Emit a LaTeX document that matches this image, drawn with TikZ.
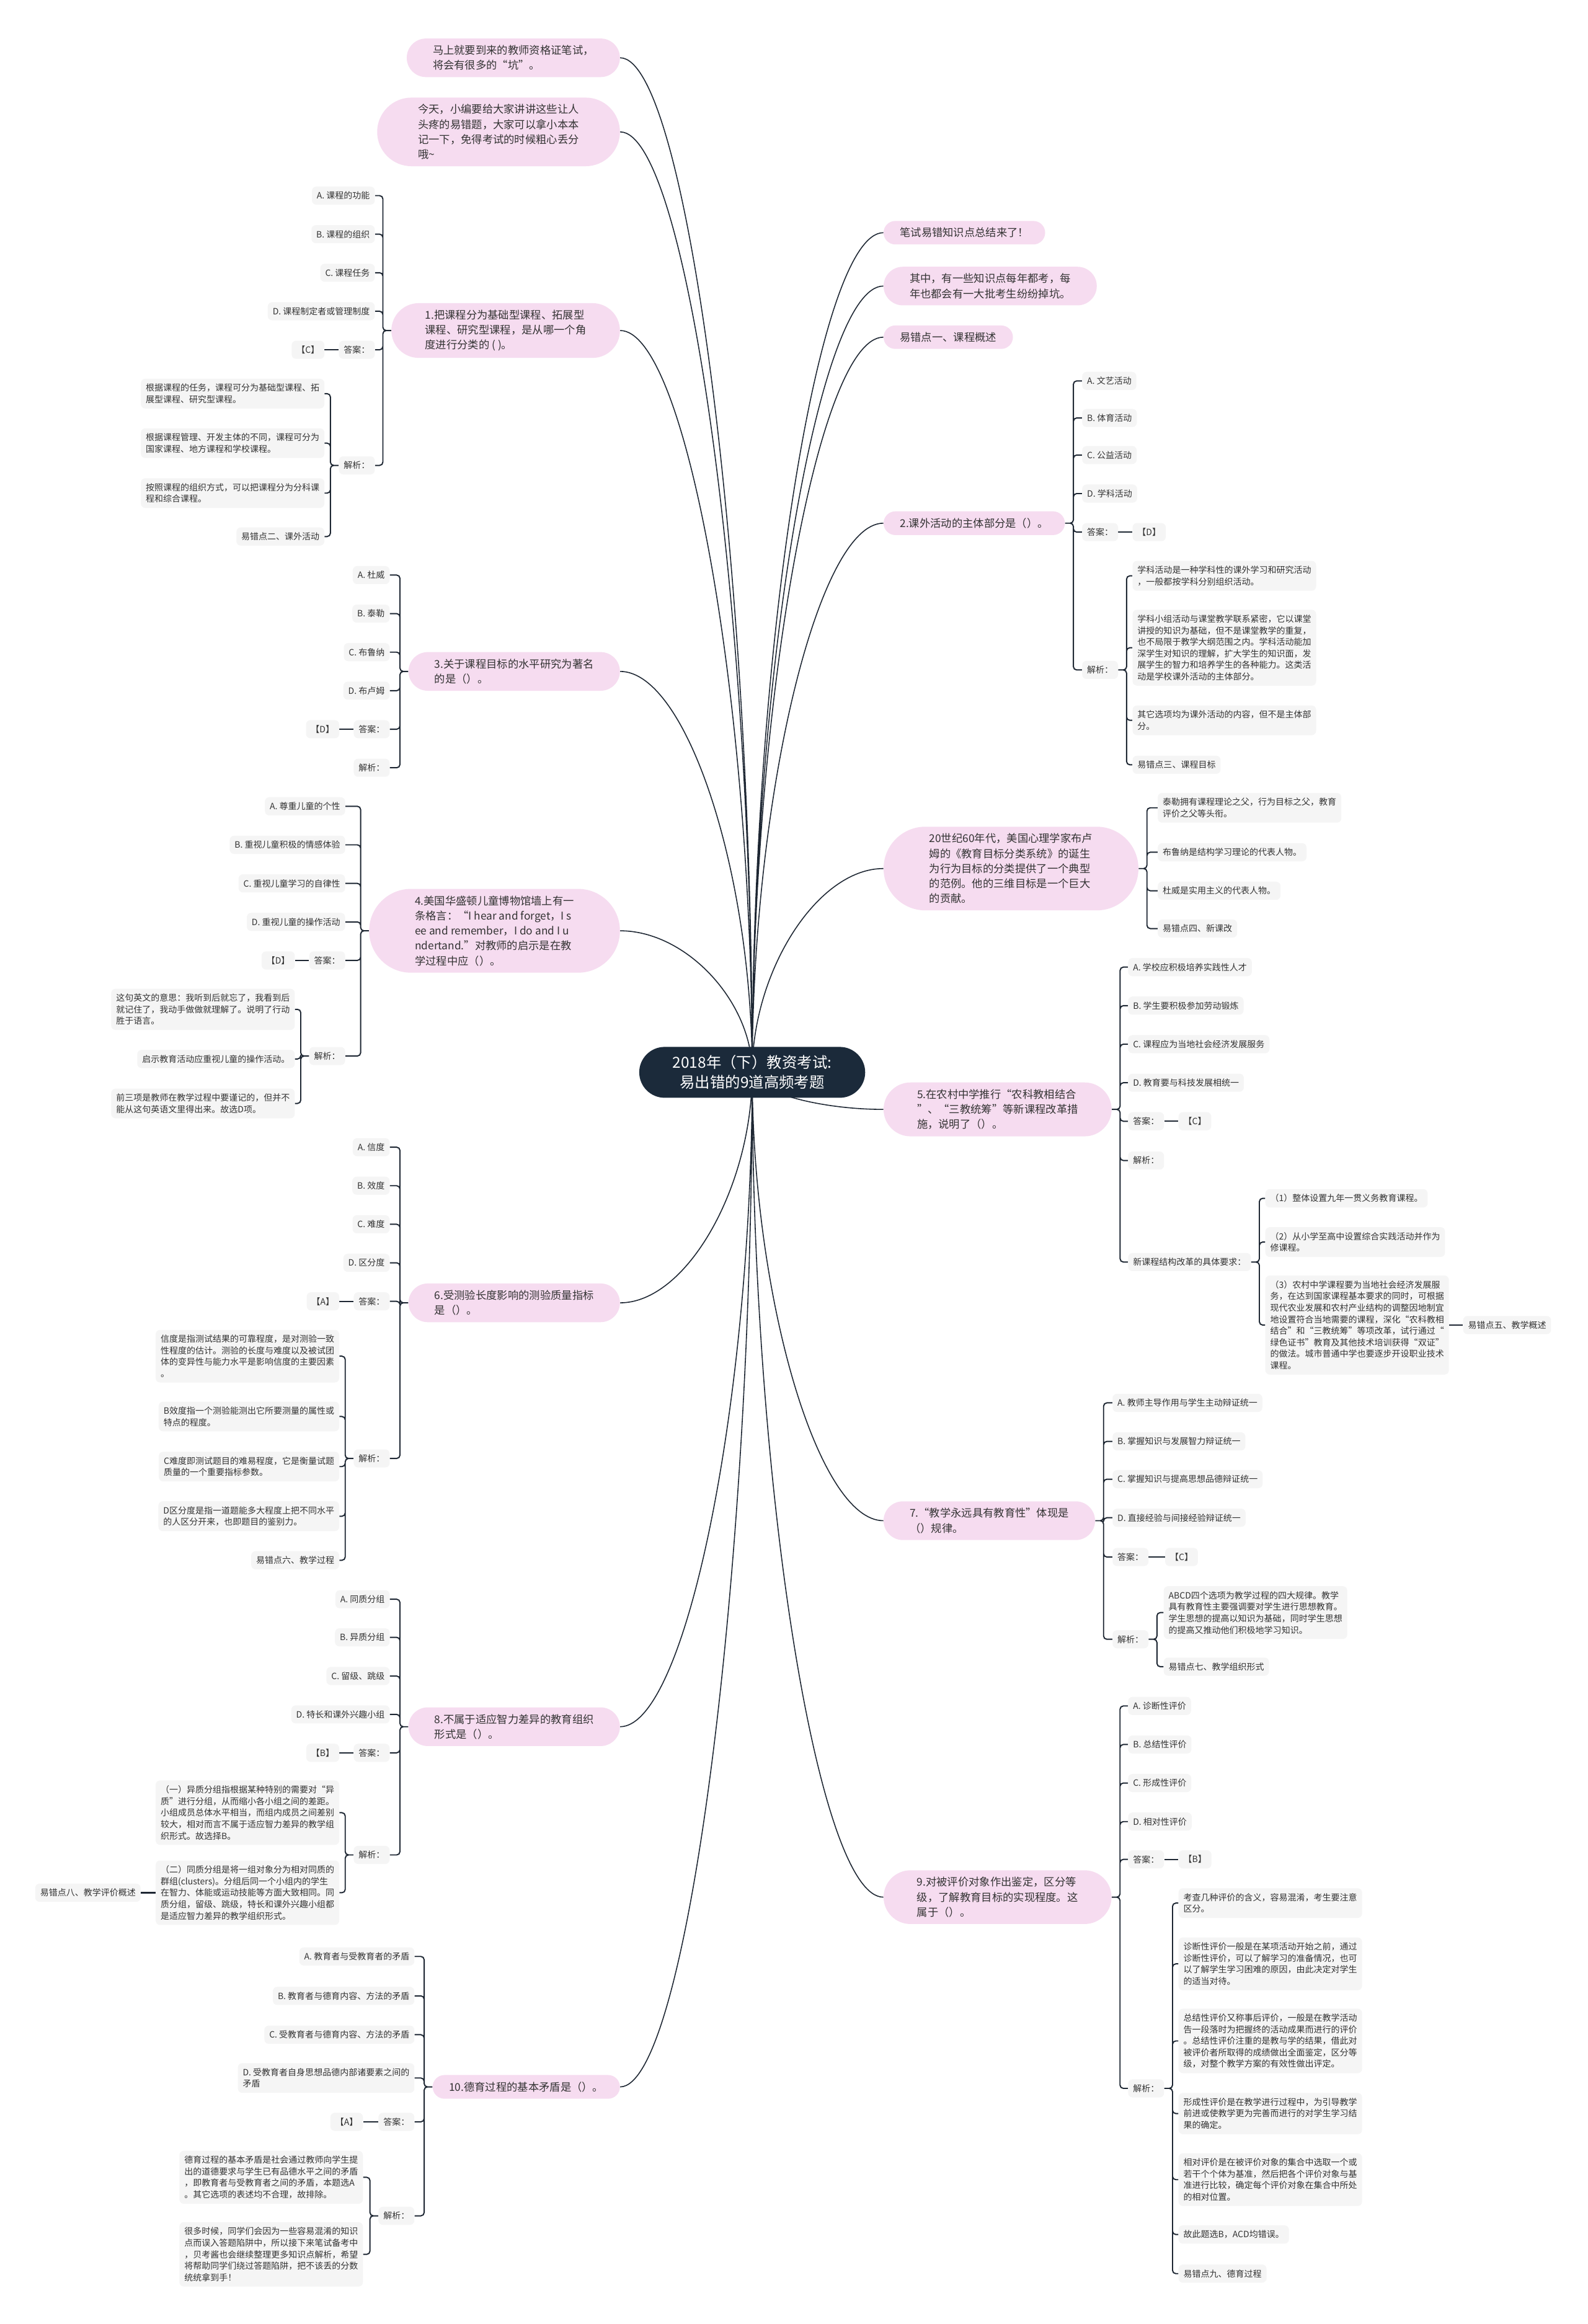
\documentclass[tikz,border=0pt]{standalone}
\usepackage{fontspec}
\setmainfont{Noto Sans CJK SC}
\usepackage{tikz}
\usetikzlibrary{shapes.misc,calc,backgrounds}
\definecolor{MMNavy}{HTML}{1B2A3A}
\definecolor{MMPink}{HTML}{F6DCF0}
\definecolor{MMLeaf}{HTML}{F5F5F5}
\definecolor{MMLine}{HTML}{1E2733}
\definecolor{MMText}{HTML}{333333}
\tikzset{
  hub/.style={rounded rectangle,fill=MMNavy,text=white,align=center,
    font=\fontsize{13.9pt}{18.2pt}\selectfont,inner xsep=24.7pt,inner ysep=7.7pt},
  topic/.style={rounded rectangle,fill=MMPink,text=MMText,align=left,
    font=\fontsize{9.85pt}{13.8pt}\selectfont,inner xsep=#1,inner ysep=6.2pt},
  topic/.default=14pt,
  leaf/.style={rectangle,rounded corners=4pt,fill=MMLeaf,text=MMText,align=left,
    font=\fontsize{7.97pt}{10.6pt}\selectfont,inner xsep=4.5pt,inner ysep=4.6pt},
  trunk/.style={draw=MMLine,line width=.9pt,
    to path={.. controls ($(\tikztostart)!0.5!(\tikztostart |- \tikztotarget)$)
      and ($(\tikztotarget)!0.5!(\tikztotarget -| \tikztostart)$) .. (\tikztotarget)}},
  twigl/.style={draw=MMLine,line width=1.1pt,rounded corners=3pt,
    to path={-- ++(-5.6,0) |- (\tikztotarget)}},
  twigr/.style={draw=MMLine,line width=1.1pt,rounded corners=3pt,
    to path={-- ++(5.6,0) |- (\tikztotarget)}},
  stem/.style={draw=MMLine,line width=1.3pt}
}
\begin{document}
\begin{tikzpicture}[x=0.0478cm,y=-0.0478cm]
\path[use as bounding box] (0,0) rectangle (1071,1568);
\node[hub] (root) at (507.5,723.5) {2018年（下）教资考试:\\易出错的9道高频考题};
% left topics
\node[topic=19.7pt,anchor=east] (intro1) at (418.4,39) {马上就要到来的教师资格证笔试，\\将会有很多的“坑”。};
\node[topic=24.8pt,anchor=east] (intro2) at (418.4,89) {今天，小编要给大家讲讲这些让人\\头疼的易错题，大家可以拿小本本\\记一下，免得考试的时候粗心丢分\\哦\textasciitilde};
\node[topic=22.4pt,anchor=east] (q1) at (418.4,223) {1.把课程分为基础型课程、拓展型\\课程、研究型课程，是从哪一个角\\度进行分类的 ( )。};
\node[topic=19.7pt,anchor=east] (q3) at (418.4,453) {3.关于课程目标的水平研究为著名\\的是（）。};
\node[topic=24.5pt,anchor=east] (q4) at (418.4,628) {4.美国华盛顿儿童博物馆墙上有一\\条格言：“I hear and forget，I s\\ee and remember，I do and I u\\ndertand.”对教师的启示是在教\\学过程中应（）。};
\node[topic=19.7pt,anchor=east] (q6) at (418.4,879) {6.受测验长度影响的测验质量指标\\是（）。};
\node[topic=19.7pt,anchor=east] (q8) at (418.4,1165) {8.不属于适应智力差异的教育组织\\形式是（）。};
\node[topic,anchor=east] (q10) at (418.4,1408) {10.德育过程的基本矛盾是（）。};
% right topics
\node[topic,anchor=west] (sum) at (596,157) {笔试易错知识点总结来了！};
\node[topic=19.7pt,anchor=west] (note) at (596,193) {其中，有一些知识点每年都考，每\\年也都会有一大批考生纷纷掉坑。};
\node[topic,anchor=west] (tip1) at (596,227.5) {易错点一、课程概述};
\node[topic,anchor=west] (q2) at (596,353) {2.课外活动的主体部分是（）。};
\node[topic=24.5pt,anchor=west] (bloom) at (596,586) {20世纪60年代，美国心理学家布卢\\姆的《教育目标分类系统》的诞生\\为行为目标的分类提供了一个典型\\的范例。他的三维目标是一个巨大\\的贡献。};
\node[topic=22.4pt,anchor=west] (q5) at (596,748.5) {5.在农村中学推行“农科教相结合\\”、“三教统筹”等新课程改革措\\施，说明了（）。};
\node[topic=19.7pt,anchor=west] (q7) at (596,1026) {7.“教学永远具有教育性”体现是\\（）规律。};
\node[topic=22.4pt,anchor=west] (q9) at (596,1280) {9.对被评价对象作出鉴定，区分等\\级，了解教育目标的实现程度。这\\属于（）。};
% question 1
\node[leaf,anchor=east] (q1a) at (253,132) {A. 课程的功能};
\node[leaf,anchor=east] (q1b) at (253,158) {B. 课程的组织};
\node[leaf,anchor=east] (q1c) at (253,184) {C. 课程任务};
\node[leaf,anchor=east] (q1d) at (253,210) {D. 课程制定者或管理制度};
\node[leaf,anchor=east] (q1ans) at (253,236) {答案：};
\node[leaf,anchor=east] (q1key) at (219,236) {【C】};
\node[leaf,anchor=east] (q1why) at (253,314) {解析：};
\node[leaf,anchor=east] (q1w1) at (219,265.6) {根据课程的任务，课程可分为基础型课程、拓\\展型课程、研究型课程。};
\node[leaf,anchor=east] (q1w2) at (219,299) {根据课程管理、开发主体的不同，课程可分为\\国家课程、地方课程和学校课程。};
\node[leaf,anchor=east] (q1w3) at (219,332.7) {按照课程的组织方式，可以把课程分为分科课\\程和综合课程。};
\node[leaf,anchor=east] (q1w4) at (219,362) {易错点二、课外活动};
% question 3
\node[leaf,anchor=east] (q3a) at (263,388) {A. 杜威};
\node[leaf,anchor=east] (q3b) at (263,414) {B. 泰勒};
\node[leaf,anchor=east] (q3c) at (263,440) {C. 布鲁纳};
\node[leaf,anchor=east] (q3d) at (263,466) {D. 布卢姆};
\node[leaf,anchor=east] (q3ans) at (263,492) {答案：};
\node[leaf,anchor=east] (q3key) at (229,492) {【D】};
\node[leaf,anchor=east] (q3why) at (263,518) {解析：};
% question 4
\node[leaf,anchor=east] (q4a) at (233,544) {A. 尊重儿童的个性};
\node[leaf,anchor=east] (q4b) at (233,570) {B. 重视儿童积极的情感体验};
\node[leaf,anchor=east] (q4c) at (233,596) {C. 重视儿童学习的自律性};
\node[leaf,anchor=east] (q4d) at (233,622) {D. 重视儿童的操作活动};
\node[leaf,anchor=east] (q4ans) at (233,648) {答案：};
\node[leaf,anchor=east] (q4key) at (199,648) {【D】};
\node[leaf,anchor=east] (q4why) at (233,712.5) {解析：};
\node[leaf,anchor=east] (q4w1) at (199,681) {这句英文的意思：我听到后就忘了，我看到后\\就记住了，我动手做做就理解了。说明了行动\\胜于语言。};
\node[leaf,anchor=east] (q4w2) at (199,714.5) {启示教育活动应重视儿童的操作活动。};
\node[leaf,anchor=east] (q4w3) at (199,744.5) {前三项是教师在教学过程中要谨记的，但并不\\能从这句英语文里得出来。故选D项。};
% question 6
\node[leaf,anchor=east] (q6a) at (263,774) {A. 信度};
\node[leaf,anchor=east] (q6b) at (263,800) {B. 效度};
\node[leaf,anchor=east] (q6c) at (263,826) {C. 难度};
\node[leaf,anchor=east] (q6d) at (263,852) {D. 区分度};
\node[leaf,anchor=east] (q6ans) at (263,878) {答案：};
\node[leaf,anchor=east] (q6key) at (229,878) {【A】};
\node[leaf,anchor=east] (q6why) at (263,984) {解析：};
\node[leaf,anchor=east] (q6w1) at (229,915) {信度是指测试结果的可靠程度，是对测验一致\\性程度的估计。测验的长度与难度以及被试团\\体的变异性与能力水平是影响信度的主要因素\\。};
\node[leaf,anchor=east] (q6w2) at (229,955.7) {B效度指一个测验能测出它所要测量的属性或\\特点的程度。};
\node[leaf,anchor=east] (q6w3) at (229,989.5) {C难度即测试题目的难易程度，它是衡量试题\\质量的一个重要指标参数。};
\node[leaf,anchor=east] (q6w4) at (229,1023) {D区分度是指一道题能多大程度上把不同水平\\的人区分开来，也即题目的鉴别力。};
\node[leaf,anchor=east] (q6w5) at (229,1052.7) {易错点六、教学过程};
% question 8
\node[leaf,anchor=east] (q8a) at (263,1079) {A. 同质分组};
\node[leaf,anchor=east] (q8b) at (263,1104.7) {B. 异质分组};
\node[leaf,anchor=east] (q8c) at (263,1130.8) {C. 留级、跳级};
\node[leaf,anchor=east] (q8d) at (263,1156.7) {D. 特长和课外兴趣小组};
\node[leaf,anchor=east] (q8ans) at (263,1182.6) {答案：};
\node[leaf,anchor=east] (q8key) at (229,1182.6) {【B】};
\node[leaf,anchor=east] (q8why) at (263,1251.5) {解析：};
\node[leaf,anchor=east] (q8w1) at (229,1223) {（一）异质分组指根据某种特别的需要对“异\\质”进行分组，从而缩小各小组之间的差距。\\小组成员总体水平相当，而组内成员之间差别\\较大，相对而言不属于适应智力差异的教学组\\织形式。故选择B。};
\node[leaf,anchor=east] (q8w2) at (229,1277) {（二）同质分组是将一组对象分为相对同质的\\群组(clusters)。分组后同一个小组内的学生\\在智力、体能或运动技能等方面大致相同。同\\质分组，留级、跳级，特长和课外兴趣小组都\\是适应智力差异的教学组织形式。};
\node[leaf,anchor=east] (q8tip) at (95,1277) {易错点八、教学评价概述};
% question 10
\node[leaf,anchor=east] (q10a) at (279.7,1320) {A. 教育者与受教育者的矛盾};
\node[leaf,anchor=east] (q10b) at (279.7,1346.6) {B. 教育者与德育内容、方法的矛盾};
\node[leaf,anchor=east] (q10c) at (279.7,1372.8) {C. 受教育者与德育内容、方法的矛盾};
\node[leaf,anchor=east] (q10d) at (279.7,1402) {D. 受教育者自身思想品德内部诸要素之间的\\矛盾};
\node[leaf,anchor=east] (q10ans) at (279.7,1431.6) {答案：};
\node[leaf,anchor=east] (q10key) at (245,1431.6) {【A】};
\node[leaf,anchor=east] (q10why) at (279.7,1495) {解析：};
\node[leaf,anchor=east] (q10w1) at (245,1469) {德育过程的基本矛盾是社会通过教师向学生提\\出的道德要求与学生已有品德水平之间的矛盾\\，即教育者与受教育者之间的矛盾，本题选A\\。其它选项的表述均不合理，故排除。};
\node[leaf,anchor=east] (q10w2) at (245,1521) {很多时候，同学们会因为一些容易混淆的知识\\点而误入答题陷阱中，所以接下来笔试备考中\\，贝考酱也会继续整理更多知识点解析，希望\\将帮助同学们绕过答题陷阱，把不该丢的分数\\统统拿到手！};
% question 2
\node[leaf,anchor=west] (q2a) at (730,257) {A. 文艺活动};
\node[leaf,anchor=west] (q2b) at (730,282) {B. 体育活动};
\node[leaf,anchor=west] (q2c) at (730,307) {C. 公益活动};
\node[leaf,anchor=west] (q2d) at (730,333) {D. 学科活动};
\node[leaf,anchor=west] (q2ans) at (730,359) {答案：};
\node[leaf,anchor=west] (q2key) at (764,359) {【D】};
\node[leaf,anchor=west] (q2why) at (730,452) {解析：};
\node[leaf,anchor=west] (q2w1) at (764,388.5) {学科活动是一种学科性的课外学习和研究活动\\，一般都按学科分别组织活动。};
\node[leaf,anchor=west] (q2w2) at (764,437) {学科小组活动与课堂教学联系紧密，它以课堂\\讲授的知识为基础，但不是课堂教学的重复，\\也不局限于教学大纲范围之内。学科活动能加\\深学生对知识的理解，扩大学生的知识面，发\\展学生的智力和培养学生的各种能力。这类活\\动是学校课外活动的主体部分。};
\node[leaf,anchor=west] (q2w3) at (764,486) {其它选项均为课外活动的内容，但不是主体部\\分。};
\node[leaf,anchor=west] (q2w4) at (764,516) {易错点三、课程目标};
% bloom
\node[leaf,anchor=west] (bl1) at (781,545) {泰勒拥有课程理论之父，行为目标之父，教育\\评价之父等头衔。};
\node[leaf,anchor=west] (bl2) at (781,575) {布鲁纳是结构学习理论的代表人物。};
\node[leaf,anchor=west] (bl3) at (781,601) {杜威是实用主义的代表人物。};
\node[leaf,anchor=west] (bl4) at (781,626.5) {易错点四、新课改};
% question 5
\node[leaf,anchor=west] (q5a) at (761,652.5) {A. 学校应积极培养实践性人才};
\node[leaf,anchor=west] (q5b) at (761,678.5) {B. 学生要积极参加劳动锻炼};
\node[leaf,anchor=west] (q5c) at (761,704.5) {C. 课程应为当地社会经济发展服务};
\node[leaf,anchor=west] (q5d) at (761,730.5) {D. 教育要与科技发展相统一};
\node[leaf,anchor=west] (q5ans) at (761,756.5) {答案：};
\node[leaf,anchor=west] (q5key) at (795,756.5) {【C】};
\node[leaf,anchor=west] (q5why) at (761,783) {解析：};
\node[leaf,anchor=west] (q5req) at (761,851.5) {新课程结构改革的具体要求：};
\node[leaf,anchor=west] (q5r1) at (853.6,808.5) {（1）整体设置九年一贯义务教育课程。};
\node[leaf,anchor=west] (q5r2) at (853.6,838) {（2）从小学至高中设置综合实践活动并作为\\修课程。};
\node[leaf,anchor=west] (q5r3) at (853.6,894) {（3）农村中学课程要为当地社会经济发展服\\务，在达到国家课程基本要求的同时，可根据\\现代农业发展和农村产业结构的调整因地制宜\\地设置符合当地需要的课程，深化“农科教相\\结合”和“三教统筹”等项改革，试行通过“\\绿色证书”教育及其他技术培训获得“双证”\\的做法。城市普通中学也要逐步开设职业技术\\课程。};
\node[leaf,anchor=west] (q5tip) at (987,894) {易错点五、教学概述};
% question 7
\node[leaf,anchor=west] (q7a) at (750.5,946.5) {A. 教师主导作用与学生主动辩证统一};
\node[leaf,anchor=west] (q7b) at (750.5,972.5) {B. 掌握知识与发展智力辩证统一};
\node[leaf,anchor=west] (q7c) at (750.5,998) {C. 掌握知识与提高思想品德辩证统一};
\node[leaf,anchor=west] (q7d) at (750.5,1024) {D. 直接经验与间接经验辩证统一};
\node[leaf,anchor=west] (q7ans) at (750.5,1050.5) {答案：};
\node[leaf,anchor=west] (q7key) at (786,1050.5) {【C】};
\node[leaf,anchor=west] (q7why) at (750.5,1106) {解析：};
\node[leaf,anchor=west] (q7w1) at (785,1088) {ABCD四个选项为教学过程的四大规律。教学\\具有教育性主要强调要对学生进行思想教育。\\学生思想的提高以知识为基础，同时学生思想\\的提高又推动他们积极地学习知识。};
\node[leaf,anchor=west] (q7w2) at (785,1124.5) {易错点七、教学组织形式};
% question 9
\node[leaf,anchor=west] (q9a) at (761,1151) {A. 诊断性评价};
\node[leaf,anchor=west] (q9b) at (761,1177) {B. 总结性评价};
\node[leaf,anchor=west] (q9c) at (761,1203) {C. 形成性评价};
\node[leaf,anchor=west] (q9d) at (761,1229) {D. 相对性评价};
\node[leaf,anchor=west] (q9ans) at (761,1254.5) {答案：};
\node[leaf,anchor=west] (q9key) at (795,1254.5) {【B】};
\node[leaf,anchor=west] (q9why) at (761,1409) {解析：};
\node[leaf,anchor=west] (q9w1) at (795,1284) {考查几种评价的含义，容易混淆，考生要注意\\区分。};
\node[leaf,anchor=west] (q9w2) at (795,1325) {诊断性评价一般是在某项活动开始之前，通过\\诊断性评价，可以了解学习的准备情况，也可\\以了解学生学习困难的原因，由此决定对学生\\的适当对待。};
\node[leaf,anchor=west] (q9w3) at (795,1377) {总结性评价又称事后评价，一般是在教学活动\\告一段落时为把握终的活动成果而进行的评价\\。总结性评价注重的是教与学的结果，借此对\\被评价者所取得的成绩做出全面鉴定，区分等\\级，对整个教学方案的有效性做出评定。};
\node[leaf,anchor=west] (q9w4) at (795,1426) {形成性评价是在教学进行过程中，为引导教学\\前进或使教学更为完善而进行的对学生学习结\\果的确定。};
\node[leaf,anchor=west] (q9w5) at (795,1470.6) {相对评价是在被评价对象的集合中选取一个或\\若干个个体为基准，然后把各个评价对象与基\\准进行比较，确定每个评价对象在集合中所处\\的相对位置。};
\node[leaf,anchor=west] (q9w6) at (795,1507.6) {故此题选B，ACD均错误。};
\node[leaf,anchor=west] (q9w7) at (795,1534) {易错点九、德育过程};
% connectors
\begin{scope}[on background layer]
\fill[white] (0,0) rectangle (1071,1568);
\draw[trunk] (root.center) to (intro1.east) (root.center) to (intro2.east)
  (root.center) to (q1.east) (root.center) to (q3.east) (root.center) to (q4.east)
  (root.center) to (q6.east) (root.center) to (q8.east) (root.center) to (q10.east);
\draw[trunk] (root.center) to (sum.west) (root.center) to (note.west)
  (root.center) to (tip1.west) (root.center) to (q2.west) (root.center) to (bloom.west)
  (root.center) to (q5.west) (root.center) to (q7.west) (root.center) to (q9.west);
\draw[twigl] (q1.west) to (q1a.east) (q1.west) to (q1b.east) (q1.west) to (q1c.east)
  (q1.west) to (q1d.east) (q1.west) to (q1ans.east) (q1.west) to (q1why.east);
\draw[twigl] (q1why.west) to (q1w1.east) (q1why.west) to (q1w2.east)
  (q1why.west) to (q1w3.east) (q1why.west) to (q1w4.east);
\draw[twigl] (q3.west) to (q3a.east) (q3.west) to (q3b.east) (q3.west) to (q3c.east)
  (q3.west) to (q3d.east) (q3.west) to (q3ans.east) (q3.west) to (q3why.east);
\draw[twigl] (q4.west) to (q4a.east) (q4.west) to (q4b.east) (q4.west) to (q4c.east)
  (q4.west) to (q4d.east) (q4.west) to (q4ans.east) (q4.west) to (q4why.east);
\draw[twigl] (q4why.west) to (q4w1.east) (q4why.west) to (q4w2.east) (q4why.west) to (q4w3.east);
\draw[twigl] (q6.west) to (q6a.east) (q6.west) to (q6b.east) (q6.west) to (q6c.east)
  (q6.west) to (q6d.east) (q6.west) to (q6ans.east) (q6.west) to (q6why.east);
\draw[twigl] (q6why.west) to (q6w1.east) (q6why.west) to (q6w2.east) (q6why.west) to (q6w3.east)
  (q6why.west) to (q6w4.east) (q6why.west) to (q6w5.east);
\draw[twigl] (q8.west) to (q8a.east) (q8.west) to (q8b.east) (q8.west) to (q8c.east)
  (q8.west) to (q8d.east) (q8.west) to (q8ans.east) (q8.west) to (q8why.east);
\draw[twigl] (q8why.west) to (q8w1.east) (q8why.west) to (q8w2.east);
\draw[twigl] (q10.west) to (q10a.east) (q10.west) to (q10b.east) (q10.west) to (q10c.east)
  (q10.west) to (q10d.east) (q10.west) to (q10ans.east) (q10.west) to (q10why.east);
\draw[twigl] (q10why.west) to (q10w1.east) (q10why.west) to (q10w2.east);
\draw[twigr] (q2.east) to (q2a.west) (q2.east) to (q2b.west) (q2.east) to (q2c.west)
  (q2.east) to (q2d.west) (q2.east) to (q2ans.west) (q2.east) to (q2why.west);
\draw[twigr] (q2why.east) to (q2w1.west) (q2why.east) to (q2w2.west)
  (q2why.east) to (q2w3.west) (q2why.east) to (q2w4.west);
\draw[twigr] (bloom.east) to (bl1.west) (bloom.east) to (bl2.west)
  (bloom.east) to (bl3.west) (bloom.east) to (bl4.west);
\draw[twigr] (q5.east) to (q5a.west) (q5.east) to (q5b.west) (q5.east) to (q5c.west)
  (q5.east) to (q5d.west) (q5.east) to (q5ans.west) (q5.east) to (q5why.west)
  (q5.east) to (q5req.west);
\draw[twigr] (q5req.east) to (q5r1.west) (q5req.east) to (q5r2.west) (q5req.east) to (q5r3.west);
\draw[twigr] (q7.east) to (q7a.west) (q7.east) to (q7b.west) (q7.east) to (q7c.west)
  (q7.east) to (q7d.west) (q7.east) to (q7ans.west) (q7.east) to (q7why.west);
\draw[twigr] (q7why.east) to (q7w1.west) (q7why.east) to (q7w2.west);
\draw[twigr] (q9.east) to (q9a.west) (q9.east) to (q9b.west) (q9.east) to (q9c.west)
  (q9.east) to (q9d.west) (q9.east) to (q9ans.west) (q9.east) to (q9why.west);
\draw[twigr] (q9why.east) to (q9w1.west) (q9why.east) to (q9w2.west) (q9why.east) to (q9w3.west)
  (q9why.east) to (q9w4.west) (q9why.east) to (q9w5.west) (q9why.east) to (q9w6.west)
  (q9why.east) to (q9w7.west);
\draw[stem] (q1ans.west) -- (q1key.east);
\draw[stem] (q3ans.west) -- (q3key.east);
\draw[stem] (q4ans.west) -- (q4key.east);
\draw[stem] (q6ans.west) -- (q6key.east);
\draw[stem] (q8ans.west) -- (q8key.east);
\draw[stem] (q10ans.west) -- (q10key.east);
\draw[stem] (q2ans.east) -- (q2key.west);
\draw[stem] (q5ans.east) -- (q5key.west);
\draw[stem] (q7ans.east) -- (q7key.west);
\draw[stem] (q9ans.east) -- (q9key.west);
\draw[stem] (q8w2.west) -- (q8tip.east);
\draw[stem] (q5r3.east) -- (q5tip.west);
\end{scope}
\end{tikzpicture}
\end{document}
